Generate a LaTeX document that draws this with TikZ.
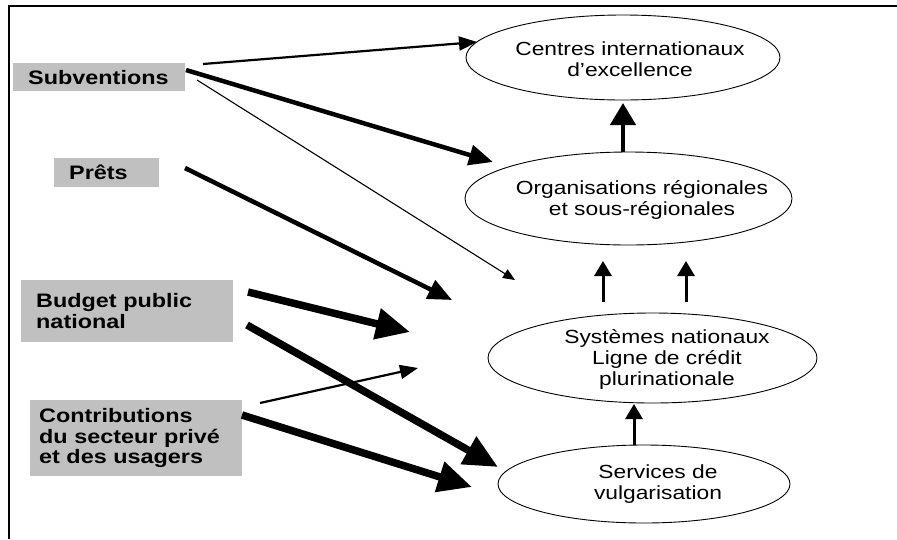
\documentclass[tikz,border=0pt]{standalone}
\usepackage{fontspec}
\setmainfont{Liberation Sans}[FakeStretch=1.2]
\usetikzlibrary{arrows.meta,shapes.geometric}
\definecolor{boxgray}{HTML}{C0C0C0}
\begin{document}
\begin{tikzpicture}[x=1pt,y=-1pt,
  ell/.style={draw, ellipse, line width=0.9pt, inner sep=0pt},
  elltext/.style={font=\fontsize{19}{21}\selectfont, align=center, inner sep=0pt},
  box/.style={fill=boxgray, anchor=north west, inner ysep=0pt, inner xsep=15pt, align=left,
    font=\fontsize{19.5}{20.5}\selectfont\bfseries},
  thinarr/.style={line width=1.1pt, -{Triangle[length=12pt,width=10pt]}},
  medarr/.style={line width=2.2pt, -{Triangle[length=18pt,width=14pt]}},
  thkarr/.style={line width=4.5pt, -{Triangle[length=24pt,width=20pt]}},
  vthkarr/.style={line width=7.5pt, -{Triangle[length=34pt,width=30pt]}},
  uparr/.style={line width=3pt, -{Triangle[length=15pt,width=17pt]}},
  bigup/.style={line width=4.5pt, -{Triangle[length=22pt,width=25pt]}}
]
\useasboundingbox (0,0) rectangle (897,539);
\draw[line width=1.3pt] (9,539) -- (9,6) -- (897,6);

% ellipses
\node[ell, minimum width=314pt, minimum height=85pt] (cie) at (623,57.5) {};
\node[elltext] (cie-t) at (630,59) {Centres internationaux\\d’excellence};
\node[ell, minimum width=327pt, minimum height=93pt] (org) at (628.5,198.5) {};
\node[elltext] (org-t) at (642,200) {Organisations régionales\\et sous-régionales};
\node[ell, minimum width=329pt, minimum height=90pt] (sys) at (652.5,358) {};
\node[elltext] (sys-t) at (667,359) {Systèmes nationaux\\Ligne de crédit\\plurinationale};
\node[ell, minimum width=292pt, minimum height=78pt] (serv) at (644,484) {};
\node[elltext] (serv-t) at (658,484) {Services de\\vulgarisation};

% boxes
\node[box, minimum width=172pt, minimum height=28pt, text width=142pt] (sub) at (13,63) {Subventions};
\node[box, minimum width=105pt, minimum height=29pt, text width=75pt] (pre) at (54,158) {Prêts};
\node[box, minimum width=212pt, minimum height=62pt, text width=182pt] (bud) at (21,280) {Budget public\\national\\[3pt]};
\node[box, minimum width=210pt, minimum height=76pt, text width=194pt, inner xsep=9pt] (con) at (30,400) {Contributions\\du secteur privé\\et des usagers};

% arrow end points
\coordinate (a1s) at (203,64);  \coordinate (a1e) at (477,42);
\coordinate (a2s) at (186,70);  \coordinate (a2e) at (493,162);
\coordinate (a3s) at (197,80);  \coordinate (a3e) at (515,280);
\coordinate (a4s) at (185,168); \coordinate (a4e) at (452,300);
\coordinate (a5s) at (248,292); \coordinate (a5e) at (410,332);
\coordinate (a6s) at (247,325); \coordinate (a6e) at (498,467);
\coordinate (a7s) at (260,403); \coordinate (a7e) at (418,368);
\coordinate (a8s) at (242,415); \coordinate (a8e) at (472,487);
\coordinate (u2s) at (603,302); \coordinate (u2e) at (603,261);
\coordinate (u3s) at (686,302); \coordinate (u3e) at (686,261);
\coordinate (u4s) at (634,445); \coordinate (u4e) at (634,404);

\draw[medarr] (a1s) -- (a1e);
\draw[thkarr] (a2s) -- (a2e);
\draw[thinarr] (a3s) -- (a3e);
\draw[thkarr] (a4s) -- (a4e);
\draw[vthkarr] (a5s) -- (a5e);
\draw[vthkarr] (a6s) -- (a6e);
\draw[medarr] (a7s) -- (a7e);
\draw[vthkarr] (a8s) -- (a8e);
\draw[bigup] (org.north -| 623,0) -- (623,103);
\draw[uparr] (u2s) -- (u2e);
\draw[uparr] (u3s) -- (u3e);
\draw[uparr] (u4s) -- (u4e);
\end{tikzpicture}
\end{document}
